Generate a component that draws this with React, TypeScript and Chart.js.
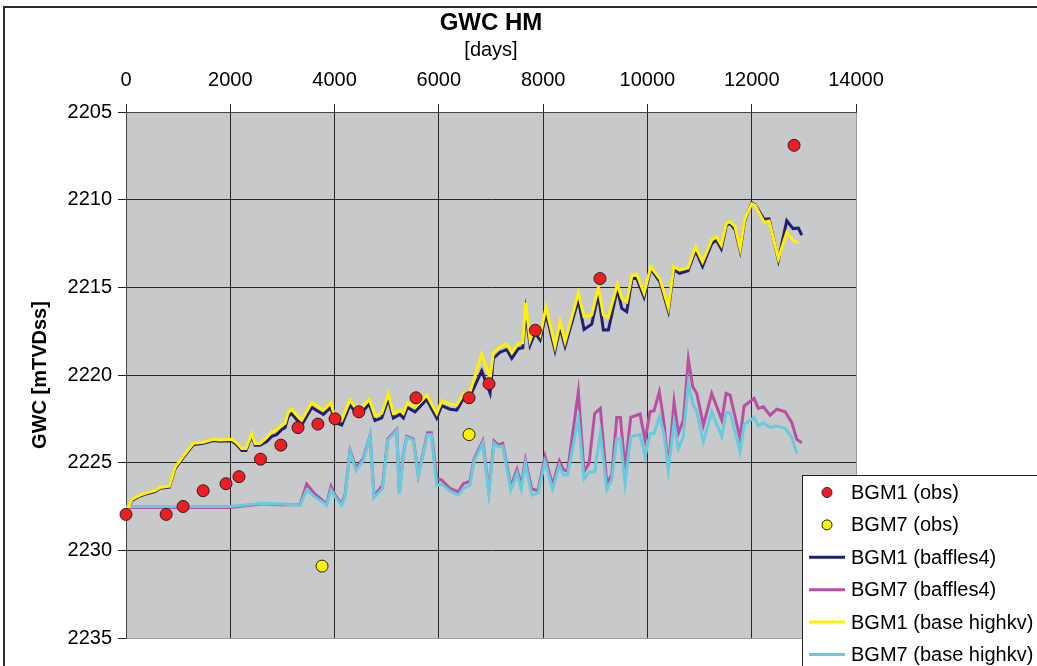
import { useEffect, useRef } from "react";
import { Chart, registerables } from "chart.js";

Chart.register(...registerables);

const W = 1037;
const H = 666;
const FONT = "'Liberation Sans', Arial, Helvetica, sans-serif";

const TITLE = "GWC HM";
const X_TITLE = "[days]";
const Y_TITLE = "GWC [mTVDss]";

const X_MIN = 0;
const X_MAX = 14000;
const X_STEP = 2000;
const Y_MIN = 2205;
const Y_MAX = 2235;
const Y_STEP = 5;

// Observed gas-water contact
const bgm1ObsDays = [0, 770, 1095, 1480, 1918, 2167, 2580, 2970, 3299, 3680, 4009, 4465, 5562, 6579, 6962, 7850, 9090, 12812];
const bgm1ObsGwc = [2227.95, 2227.95, 2227.5, 2226.6, 2226.2, 2225.8, 2224.8, 2224.0, 2223.0, 2222.8, 2222.5, 2222.1, 2221.3, 2221.3, 2220.5, 2217.45, 2214.5, 2206.9];

const bgm7ObsDays = [3760, 6579];
const bgm7ObsGwc = [2230.9, 2223.4];

// Simulated BGM1
const bgm1Days = [0, 109, 269, 397, 556, 652, 830, 940, 1099, 1291, 1483, 1674, 1803, 2027, 2123, 2219, 2302, 2411, 2474, 2570, 2699, 2795, 2890, 2986, 3050, 3113, 3178, 3274, 3370, 3562, 3784, 3926, 4009, 4137, 4296, 4456, 4667, 4776, 4904, 5031, 5127, 5255, 5319, 5395, 5543, 5767, 5959, 6055, 6214, 6343, 6469, 6598, 6822, 6982, 7045, 7173, 7302, 7398, 7524, 7609, 7666, 7749, 7845, 7941, 8056, 8228, 8324, 8420, 8675, 8784, 8932, 9059, 9155, 9251, 9423, 9508, 9603, 9705, 9795, 9935, 10064, 10242, 10401, 10505, 10616, 10779, 10923, 11057, 11234, 11322, 11416, 11514, 11585, 11681, 11777, 11863, 12001, 12064, 12237, 12333, 12511, 12672, 12793, 12895, 12960];

const bgm1HighkvGwc = [2227.9, 2227.1, 2226.85, 2226.72, 2226.6, 2226.41, 2226.34, 2225.27, 2224.63, 2223.9, 2223.83, 2223.67, 2223.71, 2223.67, 2223.87, 2224.19, 2224.19, 2223.33, 2223.9, 2223.9, 2223.56, 2223.24, 2223.14, 2222.86, 2222.76, 2222.1, 2221.96, 2222.29, 2222.57, 2221.58, 2222.0, 2221.58, 2222.42, 2222.57, 2221.43, 2222.1, 2221.39, 2222.34, 2222.19, 2221.09, 2222.19, 2222.0, 2222.19, 2221.58, 2221.85, 2221.14, 2222.19, 2221.47, 2221.66, 2221.72, 2221.09, 2220.96, 2218.81, 2220.19, 2218.73, 2218.39, 2218.24, 2218.73, 2218.2, 2218.16, 2215.88, 2218.01, 2217.25, 2217.72, 2216.14, 2218.35, 2216.96, 2218.1, 2215.34, 2216.68, 2216.58, 2215.0, 2216.58, 2216.71, 2214.81, 2215.63, 2215.82, 2214.3, 2214.24, 2215.33, 2213.83, 2214.53, 2216.15, 2213.81, 2214.01, 2213.9, 2212.7, 2213.54, 2212.3, 2212.11, 2212.59, 2211.35, 2211.26, 2211.54, 2212.78, 2211.16, 2210.23, 2210.31, 2211.28, 2211.22, 2213.35, 2211.86, 2212.32, 2212.46, null];

const bgm1BafflesGwc = [2227.95, 2227.15, 2226.9, 2226.77, 2226.65, 2226.46, 2226.4, 2225.35, 2224.7, 2223.98, 2223.9, 2223.74, 2223.78, 2223.75, 2223.97, 2224.3, 2224.3, 2223.45, 2224.0, 2224.0, 2223.8, 2223.5, 2223.4, 2223.1, 2223.0, 2222.35, 2222.2, 2222.55, 2222.85, 2221.85, 2222.25, 2221.85, 2222.7, 2222.85, 2221.7, 2222.35, 2221.65, 2222.6, 2222.45, 2221.35, 2222.45, 2222.25, 2222.45, 2221.85, 2222.1, 2221.4, 2222.45, 2221.75, 2221.95, 2222.0, 2221.35, 2221.2, 2219.76, 2221.03, 2219.05, 2218.7, 2218.55, 2219.05, 2218.5, 2218.45, 2216.4, 2218.3, 2217.6, 2218.0, 2216.5, 2218.6, 2217.3, 2218.35, 2215.7, 2217.4, 2217.1, 2215.4, 2217.44, 2217.44, 2215.1, 2216.2, 2216.39, 2214.5, 2214.5, 2215.55, 2213.95, 2214.7, 2216.35, 2214.0, 2214.2, 2214.05, 2212.9, 2213.8, 2212.5, 2212.3, 2212.8, 2211.45, 2211.35, 2211.7, 2212.9, 2211.25, 2210.18, 2210.28, 2211.12, 2211.1, 2213.44, 2211.2, 2211.65, 2211.62, 2212.02];

// Simulated BGM7
const bgm7Days = [0, 1995, 2633, 2954, 3337, 3466, 3625, 3849, 3932, 4009, 4137, 4200, 4296, 4411, 4551, 4680, 4757, 4920, 5021, 5192, 5242, 5319, 5384, 5510, 5606, 5783, 5856, 5959, 6055, 6214, 6373, 6469, 6598, 6675, 6842, 6959, 7058, 7141, 7225, 7381, 7499, 7580, 7659, 7781, 7902, 8036, 8180, 8311, 8388, 8468, 8675, 8784, 8880, 8989, 9097, 9220, 9316, 9412, 9481, 9571, 9680, 9859, 9955, 10050, 10127, 10229, 10319, 10401, 10511, 10593, 10689, 10785, 10869, 10946, 11073, 11234, 11426, 11508, 11585, 11777, 11853, 12045, 12128, 12224, 12352, 12480, 12640, 12768, 12864, 12960];

const bgm7HighkvGwc = [2227.5, 2227.5, 2227.32, 2227.36, 2227.42, 2226.56, 2226.95, 2227.42, 2226.56, 2226.95, 2227.42, 2226.95, 2224.38, 2225.46, 2224.85, 2223.48, 2227.0, 2226.47, 2223.71, 2223.16, 2226.78, 2224.57, 2223.56, 2223.71, 2225.77, 2223.41, 2223.41, 2226.3, 2226.22, 2226.62, 2226.85, 2226.47, 2226.28, 2224.91, 2223.88, 2226.75, 2223.88, 2224.11, 2224.05, 2226.56, 2225.59, 2226.51, 2225.04, 2226.85, 2226.74, 2224.95, 2226.51, 2225.17, 2225.71, 2225.71, 2222.5, 2225.94, 2225.54, 2225.52, 2223.33, 2226.54, 2225.99, 2223.64, 2223.64, 2226.21, 2223.51, 2223.4, 2224.67, 2223.33, 2223.33, 2222.38, 2223.37, 2225.42, 2222.73, 2224.19, 2223.52, 2220.48, 2221.62, 2222.12, 2223.81, 2222.1, 2223.52, 2222.15, 2222.15, 2224.38, 2222.86, 2222.42, 2222.91, 2222.73, 2222.99, 2222.91, 2223.04, 2223.56, 2224.47, null];

const bgm7BafflesGwc = [2227.55, 2227.55, 2227.35, 2227.4, 2227.4, 2226.22, 2226.8, 2227.35, 2226.35, 2226.85, 2227.35, 2226.85, 2224.3, 2225.3, 2224.75, 2223.45, 2226.9, 2226.3, 2223.65, 2223.1, 2226.7, 2224.5, 2223.5, 2223.65, 2225.7, 2223.3, 2223.3, 2225.9, 2225.99, 2226.47, 2226.66, 2226.2, 2226.05, 2224.8, 2223.76, 2226.6, 2223.76, 2224.0, 2223.9, 2226.38, 2225.39, 2226.27, 2224.85, 2226.5, 2226.6, 2224.66, 2226.3, 2224.9, 2225.4, 2225.5, 2220.96, 2225.52, 2225.04, 2222.19, 2221.9, 2226.18, 2225.71, 2222.42, 2222.42, 2225.33, 2222.42, 2222.23, 2223.71, 2222.1, 2222.04, 2220.96, 2222.76, 2225.33, 2221.53, 2223.33, 2222.57, 2219.11, 2220.67, 2221.05, 2222.86, 2221.05, 2222.57, 2221.05, 2221.15, 2223.62, 2221.77, 2221.33, 2221.9, 2221.81, 2222.3, 2221.95, 2222.1, 2222.7, 2223.67, 2223.87];

const COLORS = {
  bgm1Obs: "#EE1D24",
  bgm7Obs: "#FFF200",
  bgm1Baffles: "#1F2072",
  bgm7Baffles: "#B94FA5",
  bgm1Highkv: "#FFF100",
  bgm7Highkv: "#66CCDD",
  plot: "#C8C9CB",
  grid: "#262626",
  edge: "#9B9B9B",
};

const toPoints = (days: number[], gwc: (number | null)[]) =>
  days
    .map((d, i) => ({ x: d, y: gwc[i] }))
    .filter((p) => p.y !== null && p.y !== undefined);

// Background, outer frame, titles and the boxed legend
const decorations = {
  id: "decorations",
  beforeDraw(chart: any) {
    const { ctx, chartArea: a } = chart;
    ctx.save();
    ctx.fillStyle = "#ffffff";
    ctx.fillRect(0, 0, chart.width, chart.height);
    ctx.strokeStyle = "#2b2b2b";
    ctx.lineWidth = 2;
    ctx.strokeRect(4, 7, chart.width + 40, chart.height + 40);
    ctx.fillStyle = COLORS.plot;
    ctx.fillRect(a.left, a.top, a.right - a.left, a.bottom - a.top);
    ctx.restore();
  },
  afterDraw(chart: any) {
    const { ctx, chartArea: a } = chart;
    const cx = (a.left + a.right) / 2;
    ctx.save();
    ctx.fillStyle = "#000";
    ctx.textAlign = "center";
    ctx.textBaseline = "middle";
    ctx.font = `bold 24px ${FONT}`;
    ctx.fillText(TITLE, cx, 23);
    ctx.font = `20px ${FONT}`;
    ctx.fillText(X_TITLE, cx, 50);
    ctx.save();
    ctx.translate(40, (a.top + a.bottom) / 2);
    ctx.rotate(-Math.PI / 2);
    ctx.font = `bold 20px ${FONT}`;
    ctx.fillText(Y_TITLE, 0, 0);
    ctx.restore();

    // legend
    const lx = 802.5;
    const ly = 475.5;
    ctx.fillStyle = "#fff";
    ctx.fillRect(lx, ly, 400, 300);
    ctx.strokeStyle = "#222";
    ctx.lineWidth = 1;
    ctx.strokeRect(lx, ly, 400, 300);
    ctx.textAlign = "left";
    ctx.font = `20px ${FONT}`;
    chart.data.datasets.forEach((ds: any, i: number) => {
      const y = 492.5 + i * 32.4;
      if (ds.showLine === false) {
        ctx.beginPath();
        ctx.arc(827, y, 5, 0, Math.PI * 2);
        ctx.fillStyle = ds.pointBackgroundColor;
        ctx.fill();
        ctx.strokeStyle = "#222";
        ctx.lineWidth = 1;
        ctx.stroke();
      } else {
        ctx.beginPath();
        ctx.moveTo(809, y);
        ctx.lineTo(845, y);
        ctx.strokeStyle = ds.borderColor;
        ctx.lineWidth = 3;
        ctx.stroke();
      }
      ctx.fillStyle = "#000";
      ctx.fillText(ds.label, 851, y + 1);
    });
    ctx.restore();
  },
};

export default function App() {
  const canvasRef = useRef<HTMLCanvasElement | null>(null);

  useEffect(() => {
    const canvas = canvasRef.current;
    if (!canvas) return;

    const obs = (label: string, days: number[], gwc: number[], color: string, order: number) => ({
      label,
      data: toPoints(days, gwc),
      showLine: false,
      pointRadius: 6,
      pointBorderWidth: 1,
      pointBorderColor: "#222",
      pointBackgroundColor: color,
      backgroundColor: color,
      borderColor: "#222",
      clip: false,
      order,
    });

    const sim = (label: string, days: number[], gwc: (number | null)[], color: string, order: number) => ({
      label,
      data: toPoints(days, gwc),
      showLine: true,
      borderColor: color,
      backgroundColor: color,
      borderWidth: 3,
      pointRadius: 0,
      tension: 0,
      fill: false,
      order,
    });

    const chart = new Chart(canvas, {
      type: "line",
      data: {
        datasets: [
          obs("BGM1 (obs)", bgm1ObsDays, bgm1ObsGwc, COLORS.bgm1Obs, 0),
          obs("BGM7 (obs)", bgm7ObsDays, bgm7ObsGwc, COLORS.bgm7Obs, 1),
          sim("BGM1 (baffles4)", bgm1Days, bgm1BafflesGwc, COLORS.bgm1Baffles, 4),
          sim("BGM7 (baffles4)", bgm7Days, bgm7BafflesGwc, COLORS.bgm7Baffles, 5),
          sim("BGM1 (base highkv)", bgm1Days, bgm1HighkvGwc, COLORS.bgm1Highkv, 2),
          sim("BGM7 (base highkv)", bgm7Days, bgm7HighkvGwc, COLORS.bgm7Highkv, 3),
        ] as any,
      },
      options: {
        animation: false,
        responsive: false,
        devicePixelRatio: 1,
        layout: { padding: { left: 0, top: 0, right: W - 856, bottom: H - 638 } },
        plugins: {
          legend: { display: false },
          title: { display: false },
          tooltip: { enabled: false },
        },
        scales: {
          x: {
            type: "linear",
            position: "top",
            min: X_MIN,
            max: X_MAX,
            ticks: {
              stepSize: X_STEP,
              color: "#000",
              font: { family: FONT, size: 20 },
              padding: 12,
              maxRotation: 0,
              autoSkip: false,
              callback: (v: any) => String(v),
            },
            grid: {
              color: (c: any) => (c.tick && c.tick.value === X_MAX ? COLORS.edge : COLORS.grid),
              lineWidth: 1,
              tickLength: 8,
              tickColor: COLORS.grid,
            },
            border: { display: true, color: "#444", width: 1 },
            afterFit: (s: any) => {
              s.height = 112;
            },
          },
          y: {
            type: "linear",
            reverse: true,
            min: Y_MIN,
            max: Y_MAX,
            ticks: {
              stepSize: Y_STEP,
              color: "#000",
              font: { family: FONT, size: 20 },
              padding: 6,
              callback: (v: any) => String(v),
            },
            grid: {
              color: (c: any) => (c.tick && c.tick.value === Y_MAX ? COLORS.edge : COLORS.grid),
              lineWidth: 1,
              tickLength: 8,
              tickColor: COLORS.grid,
            },
            border: { display: true, color: "#444", width: 1 },
            afterFit: (s: any) => {
              s.width = 126;
            },
          },
        },
      } as any,
      plugins: [decorations],
    });

    return () => chart.destroy();
  }, []);

  return (
    <div style={{ position: "fixed", left: 0, top: 0, width: W, height: H, background: "#fff" }}>
      <canvas ref={canvasRef} width={W} height={H} style={{ display: "block", width: W, height: H }} />
    </div>
  );
}
